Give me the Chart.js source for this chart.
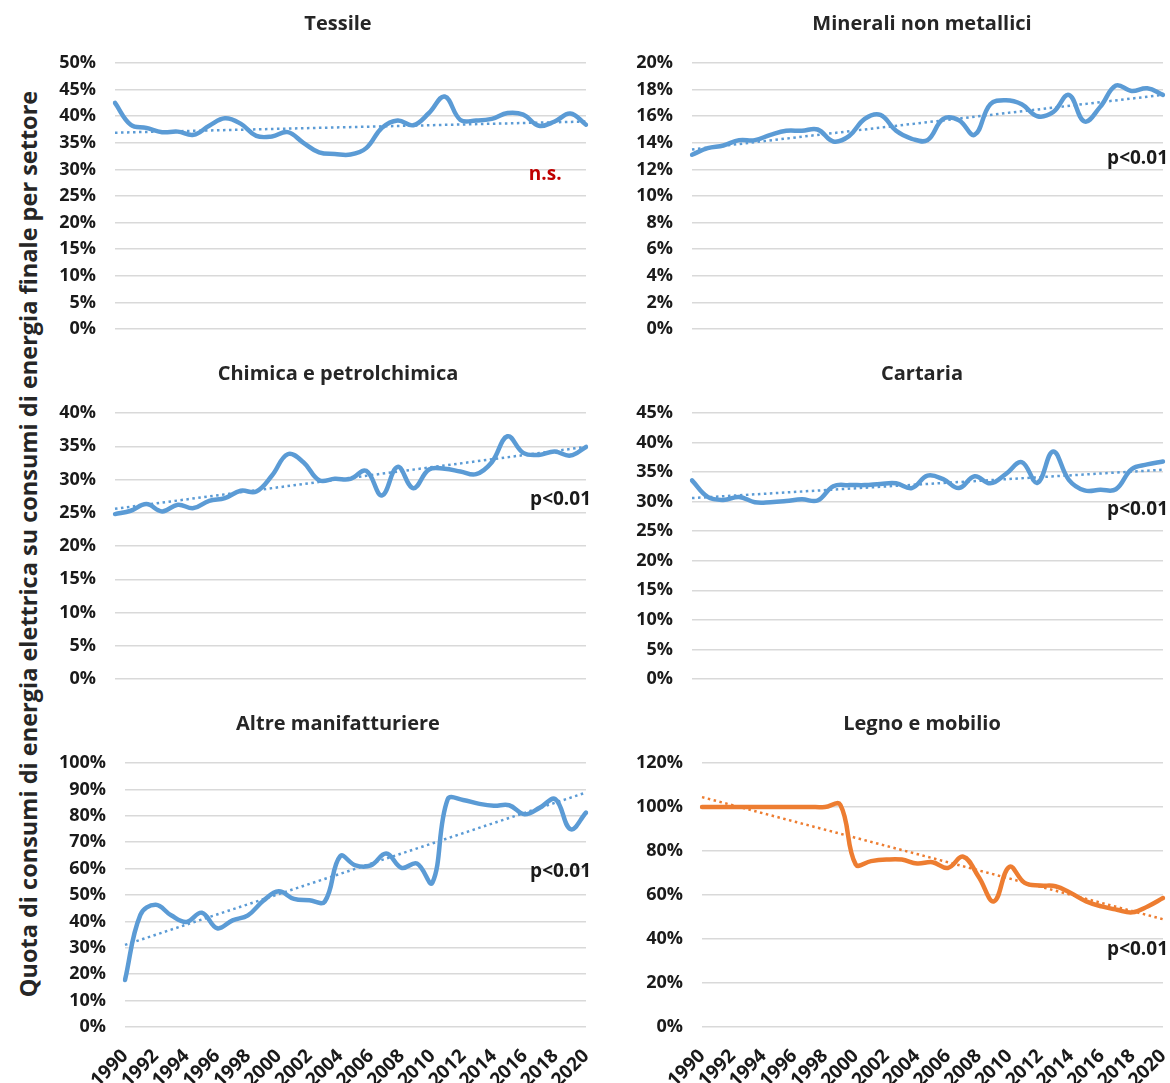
<!DOCTYPE html>
<html>
<head>
<meta charset="utf-8">
<title>Quota elettrica per settore</title>
<script src="https://cdn.jsdelivr.net/npm/chart.js@4.4.1/dist/chart.umd.min.js"></script>
<style>
  body { margin: 0; background: #fff; }
  #wrap { position: relative; width: 1170px; height: 1083px; overflow: hidden; font-family: "Open Sans", sans-serif; }
  canvas { position: absolute; }
  #ytitle {
    position: absolute; left: 28px; top: 544px;
    transform: translate(-50%, -50%) rotate(-90deg);
    white-space: nowrap; font-weight: 700; font-size: 23.5px; color: #262626;
  }
</style>
</head>
<body>
<div id="wrap">
  <div id="ytitle">Quota di consumi di energia elettrica su consumi di energia finale per settore</div>
  <canvas id="c0" width="600" height="345" style="left:0;top:0"></canvas>
  <canvas id="c1" width="570" height="345" style="left:600px;top:0"></canvas>
  <canvas id="c2" width="600" height="345" style="left:0;top:350px"></canvas>
  <canvas id="c3" width="570" height="345" style="left:600px;top:350px"></canvas>
  <canvas id="c4" width="600" height="383" style="left:0;top:700px"></canvas>
  <canvas id="c5" width="570" height="383" style="left:600px;top:700px"></canvas>
</div>
<script>
// years on the x axis
const years = ['1990', '1991', '1992', '1993', '1994', '1995', '1996', '1997', '1998', '1999',
  '2000', '2001', '2002', '2003', '2004', '2005', '2006', '2007', '2008', '2009',
  '2010', '2011', '2012', '2013', '2014', '2015', '2016', '2017', '2018', '2019', '2020'];

// share of electricity in final energy use, %
const tessile = [42.5, 38.4, 37.8, 37.0, 37.1, 36.5, 38.2, 39.6, 38.6, 36.3, 36.2, 37.0, 35.0, 33.2, 32.9, 32.8,
  34.0, 37.8, 39.2, 38.3, 40.6, 43.7, 39.3, 39.2, 39.5, 40.6, 40.3, 38.2, 39.0, 40.5, 38.4];
const minerali = [13.1, 13.6, 13.8, 14.2, 14.2, 14.6, 14.9, 14.9, 15.0, 14.1, 14.5, 15.8, 16.1, 14.9, 14.3, 14.2,
  15.8, 15.7, 14.6, 16.9, 17.2, 16.9, 16.0, 16.3, 17.6, 15.6, 16.7, 18.3, 17.9, 18.1, 17.6];
const chimica = [24.8, 25.3, 26.3, 25.2, 26.2, 25.7, 26.8, 27.2, 28.3, 28.2, 30.6, 33.8, 32.6, 29.9, 30.1, 30.1,
  31.3, 27.6, 31.9, 28.7, 31.5, 31.6, 31.2, 30.8, 32.6, 36.5, 34.0, 33.7, 34.2, 33.6, 34.9];
const cartaria = [33.6, 30.8, 30.3, 30.8, 29.9, 29.9, 30.1, 30.4, 30.2, 32.6, 32.8, 32.8, 33.0, 33.1, 32.3, 34.4,
  33.8, 32.3, 34.3, 33.1, 34.7, 36.7, 33.2, 38.5, 33.7, 31.9, 32.0, 32.1, 35.5, 36.3, 36.8];
const altre = [17.8, 42.5, 46.3, 42.3, 39.8, 43.3, 37.4, 40.4, 42.3, 47.8, 51.4, 48.5, 48.0, 47.5, 64.7, 61.2,
  61.2, 65.7, 60.3, 61.9, 54.6, 86.3, 86.0, 84.6, 83.8, 84.0, 80.6, 83.1, 86.3, 74.9, 81.2];
const legno = [100, 100, 100, 100, 100, 100, 100, 100, 100, 101, 73.9, 75.4, 76.1, 76.1, 74.3, 74.9,
  72.3, 77.4, 68.3, 57.1, 72.8, 65.5, 64.3, 64.0, 60.9, 57.1, 54.8, 53.3, 52.1, 54.8, 58.6];

const titles = ['Tessile', 'Minerali non metallici', 'Chimica e petrolchimica', 'Cartaria',
  'Altre manifatturiere', 'Legno e mobilio'];

// linear trend, value at 1990 and at 2020
const trendStart = [36.9, 13.5, 25.6, 30.6, 31.1, 104.5];
const trendEnd = [39.0, 17.6, 34.9, 35.4, 88.8, 49.0];

// y axis range
const yMax = [50, 20, 40, 45, 100, 120];
const yStep = [5, 2, 5, 5, 10, 20];

// significance notes
const notes = ['n.s.', 'p<0.01', 'p<0.01', 'p<0.01', 'p<0.01', 'p<0.01'];
const noteY = [29.1, 12.8, 27.0, 28.6, 58.7, 35.1];

const series = [tessile, minerali, chimica, cartaria, altre, legno];
const lineColors = ['#5B9BD5', '#5B9BD5', '#5B9BD5', '#5B9BD5', '#5B9BD5', '#ED7D31'];
// room left of each plot for the y labels
const axisWidth = [110, 87, 110, 87, 120, 97];

Chart.defaults.font.family = "'Open Sans', sans-serif";

// panel title + the n.s. / p<0.01 label
const notePlugin = {
  id: 'note',
  afterDatasetsDraw(chart, args, opts) {
    const { ctx, chartArea, scales } = chart;
    ctx.save();
    ctx.textBaseline = 'middle';

    ctx.font = 'bold 20px "Open Sans"';
    ctx.fillStyle = '#262626';
    ctx.textAlign = 'center';
    ctx.fillText(opts.title, opts.titleX, 24);

    ctx.font = 'bold 19px "Open Sans"';
    ctx.fillStyle = opts.color;
    let x = chartArea.right + 5;
    ctx.textAlign = 'right';
    if (opts.at != null) {
      x = scales.x.getPixelForValue(opts.at);
      ctx.textAlign = 'center';
    }
    ctx.fillText(opts.text, x, scales.y.getPixelForValue(opts.y));
    ctx.restore();
  }
};

const makeChart = (i) => {
  const bottom = i >= 4;
  const leftCol = i % 2 === 0;
  const last = years.length - 1;
  return new Chart(document.getElementById('c' + i), {
    type: 'line',
    data: {
      labels: years,
      datasets: [{
        data: series[i],
        borderColor: lineColors[i],
        borderWidth: 4.5,
        pointRadius: 0,
        tension: 0.4,
        borderCapStyle: 'round',
        borderJoinStyle: 'round'
      }, {
        data: [{ x: years[0], y: trendStart[i] }, { x: years[last], y: trendEnd[i] }],
        borderColor: lineColors[i],
        borderWidth: 2.5,
        borderDash: [2.5, 3.5],
        pointRadius: 0
      }]
    },
    options: {
      responsive: false,
      animation: false,
      events: [],
      layout: {
        padding: { left: 5, right: leftCol ? 14 : 7, top: 63, bottom: bottom ? 0 : 16 }
      },
      plugins: {
        legend: { display: false },
        tooltip: { enabled: false },
        title: { display: false },
        note: {
          title: titles[i],
          titleX: leftCol ? 338 : 322,
          text: notes[i],
          y: noteY[i],
          at: i === 0 ? 27.4 : null,
          color: i === 0 ? '#C00000' : '#1a1a1a'
        }
      },
      scales: {
        x: {
          display: bottom,
          grid: { display: false },
          border: { display: false },
          ticks: {
            autoSkip: false,
            minRotation: 45,
            maxRotation: 45,
            padding: 10,
            color: '#1a1a1a',
            font: { size: 19, weight: 'bold' },
            callback: (v, idx) => idx % 2 === 0 ? years[idx] : ''
          },
          afterFit: (s) => {
            s.height = bottom ? 56 : 0;
            s.paddingLeft = 0;
            s.paddingRight = 0;
          }
        },
        y: {
          min: 0,
          max: yMax[i],
          grid: { color: '#d9d9d9', lineWidth: 1.5, drawTicks: true, tickLength: 19, tickColor: 'rgba(0,0,0,0)' },
          border: { display: false },
          ticks: {
            stepSize: yStep[i],
            padding: 0,
            color: '#1a1a1a',
            font: { size: 18, weight: 'bold' },
            callback: (v) => v + '%'
          },
          afterFit: (s) => { s.width = axisWidth[i]; }
        }
      }
    },
    plugins: [notePlugin]
  });
};

for (let i = 0; i < 6; i++) makeChart(i);
</script>
</body>
</html>
